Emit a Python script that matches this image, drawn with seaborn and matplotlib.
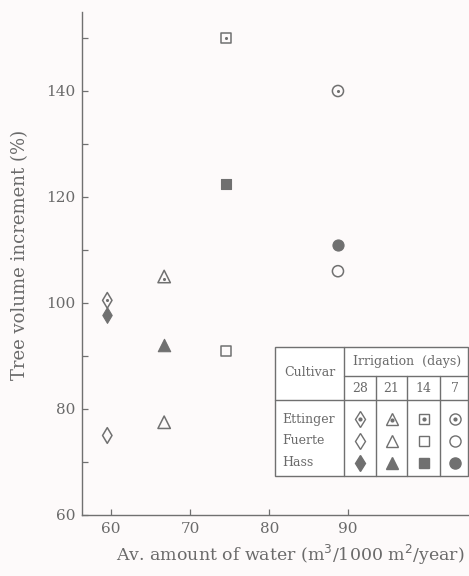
import matplotlib
matplotlib.use("Agg")
import matplotlib.pyplot as plt
from matplotlib.lines import Line2D
from matplotlib.patches import Rectangle
import seaborn as sns
import pandas as pd

# ---- data ----
irrigation_days = [28, 21, 14, 7]
water = [59.5, 66.7, 74.5, 88.7]
ettinger = [100.5, 105.0, 150.0, 140.0]
fuerte = [75.0, 77.5, 91.0, 106.0]
hass = [97.8, 92.0, 122.5, 111.0]
cultivars = ["Ettinger", "Fuerte", "Hass"]
x_ticks = [60, 70, 80, 90]
y_ticks = [60, 80, 100, 120, 140]

GRAY = "#707070"
TXT = "#6a6a6a"
BG = "#fdfafa"

sns.set_theme(style="white")
plt.rcParams["font.family"] = ["DejaVu Serif"]

W, H = 469, 576
fig = plt.figure(figsize=(W / 100, H / 100), dpi=100, facecolor=BG)
ax = fig.add_axes([82 / W, 1 - 515 / H, (W - 82) / W, (515 - 12) / H])
ax.set_facecolor(BG)

markers = {28: "d", 21: "^", 14: "s", 7: "o"}
sizes = {28: 64, 21: 80, 14: 56, 7: 64}

df = pd.DataFrame({
    "water": water * 3,
    "value": ettinger + fuerte + hass,
    "cultivar": [c for c in cultivars for _ in irrigation_days],
    "days": irrigation_days * 3,
})

for _, r in df.iterrows():
    d = r["days"]
    sub = pd.DataFrame({"x": [r["water"]], "y": [r["value"]]})
    if r["cultivar"] == "Hass":
        sns.scatterplot(data=sub, x="x", y="y", marker=markers[d], s=sizes[d],
                        color=GRAY, edgecolor=GRAY, linewidth=0.8, ax=ax, zorder=3)
    else:
        sns.scatterplot(data=sub, x="x", y="y", marker=markers[d], s=sizes[d],
                        facecolor="none", edgecolor=GRAY, linewidth=1.1, ax=ax, zorder=3)
        if r["cultivar"] == "Ettinger":
            yy = r["value"] - (0.5 if d == 21 else 0)
            sns.scatterplot(x=[r["water"]], y=[yy], marker="o", s=5,
                            color=GRAY, edgecolor=GRAY, linewidth=0, ax=ax, zorder=4)

ax.set_xlim(56.3, 56.3 + (W - 82) / 7.9)
ax.set_ylim(60, 60 + (515 - 12) / 5.3)
ax.set_xticks(x_ticks)
ax.set_xticklabels([str(t) for t in x_ticks])
ax.set_yticks(list(range(60, 151, 10)))
ax.set_yticklabels([str(t) if t in y_ticks else "" for t in range(60, 151, 10)])
ax.tick_params(direction="in", length=4, width=0.9, color=GRAY, labelcolor=TXT,
               labelsize=11, bottom=True, left=True, pad=5)
for s in ["top", "right"]:
    ax.spines[s].set_visible(False)
for s in ["left", "bottom"]:
    ax.spines[s].set_color(GRAY)
    ax.spines[s].set_linewidth(1.0)
ax.set_xlabel("")
ax.set_ylabel("")

fig.text(20 / W, 1 - 255 / H, "Tree volume increment (%)", rotation=90,
         ha="center", va="center", fontsize=13, color=TXT)
fig.text(290 / W, 1 - 555 / H, "Av. amount of water (m$^3$/1000 m$^2$/year)",
         ha="center", va="center", fontsize=12.5, color=TXT)

# ---- table legend ----
def fx(x): return x / W
def fy(y): return 1 - y / H

def hline(x0, x1, y, lw=1.0):
    fig.add_artist(Line2D([fx(x0), fx(x1)], [fy(y), fy(y)], color=GRAY, lw=lw, zorder=6))

def vline(x, y0, y1, lw=1.0):
    fig.add_artist(Line2D([fx(x), fx(x)], [fy(y0), fy(y1)], color=GRAY, lw=lw, zorder=6))

fig.add_artist(Rectangle((fx(275), fy(476)), fx(468) - fx(275), fy(347) - fy(476),
                         facecolor="white", edgecolor=GRAY, lw=1.0, zorder=5))
hline(344, 468, 376)
hline(275, 468, 400)
vline(344, 347, 476)
for xv in [376, 407, 440]:
    vline(xv, 376, 476)

fig.text(fx(310), fy(373), "Cultivar", ha="center", va="center", fontsize=9, color=TXT, zorder=6)
fig.text(fx(407), fy(361), "Irrigation  (days)", ha="center", va="center", fontsize=9, color=TXT, zorder=6)
col_x = [360, 391.5, 423.5, 454.5]
for cx, d in zip(col_x, irrigation_days):
    fig.text(fx(cx), fy(388), str(d), ha="center", va="center", fontsize=9, color=TXT, zorder=6)
row_y = [419, 441, 463]
for ry, c in zip(row_y, cultivars):
    fig.text(fx(282), fy(ry), c, ha="left", va="center", fontsize=9, color=TXT, zorder=6)

lsz = {28: 8.5, 21: 8.5, 14: 7, 7: 8}
for ry, c in zip(row_y, cultivars):
    for cx, d in zip(col_x, irrigation_days):
        filled = c == "Hass"
        fig.add_artist(Line2D([fx(cx)], [fy(ry)], marker=markers[d], markersize=lsz[d],
                              markerfacecolor=GRAY if filled else "white",
                              markeredgecolor=GRAY, markeredgewidth=1.0,
                              linestyle="none", zorder=7))
        if c == "Ettinger":
            fig.add_artist(Line2D([fx(cx)], [fy(ry + (1 if d == 21 else 0))], marker="o",
                                  markersize=2, markerfacecolor=GRAY,
                                  markeredgecolor=GRAY, linestyle="none", zorder=8))

fig.savefig("out.png", dpi=100, facecolor=BG)
